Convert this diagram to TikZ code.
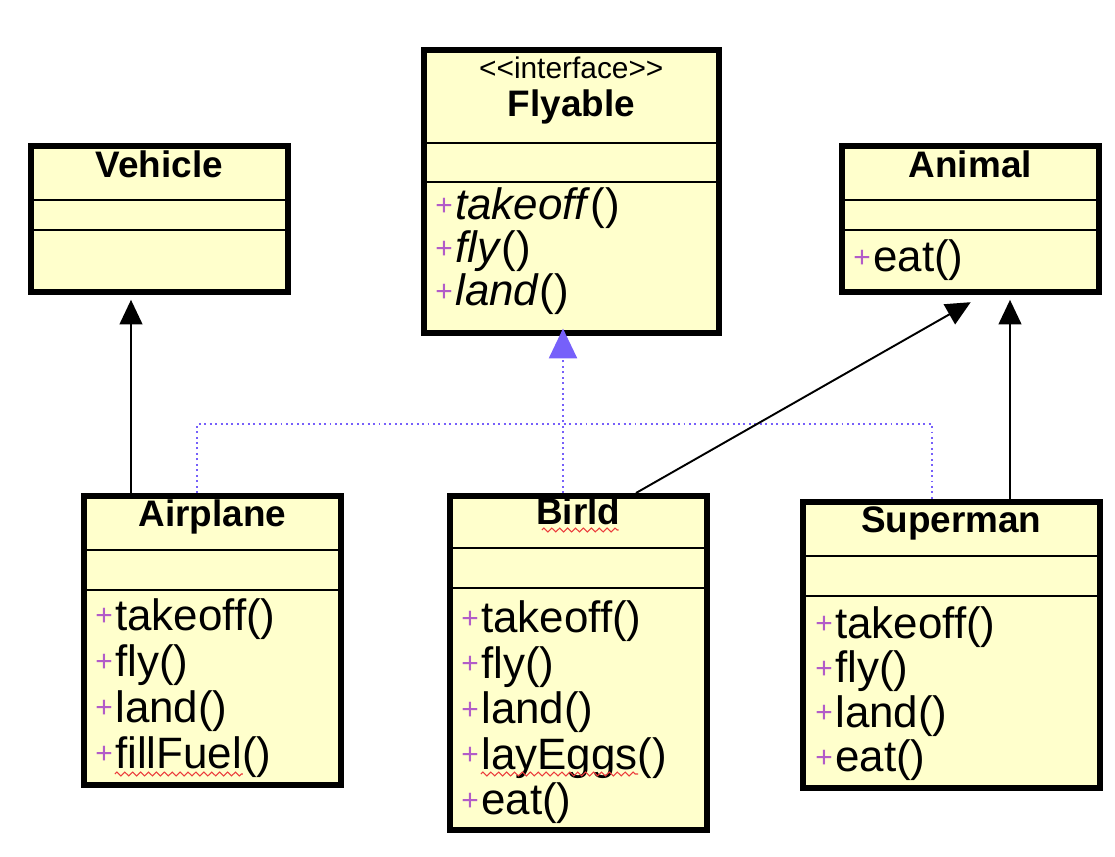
\documentclass[tikz,border=0pt]{standalone}
\usepackage{fontspec}
\setmainfont{Liberation Sans}
\usetikzlibrary{arrows.meta, calc, decorations.pathmorphing}

\definecolor{umlfill}{RGB}{255,255,204}
\definecolor{realblue}{RGB}{118,96,250}
\definecolor{pluscol}{RGB}{178,92,200}
\definecolor{squigred}{RGB}{235,60,60}

\begin{document}
\begin{tikzpicture}[x=0.02cm, y=-0.02cm,
    classbox/.style={draw, line width=3.2pt, fill=umlfill, anchor=north west, inner sep=0pt},
    divider/.style={line width=1.4pt},
    title/.style={anchor=base, inner sep=0pt, font=\fontsize{21}{24}\selectfont\bfseries},
    stereo/.style={anchor=base, inner sep=0pt, font=\fontsize{17}{20}\selectfont},
    plus/.style={anchor=base west, inner sep=0pt, yshift=2.5pt, text=pluscol, font=\fontsize{17}{17}\selectfont},
    op/.style={anchor=base west, inner sep=0pt, xshift=1pt, yshift=-2.5pt, font=\fontsize{25}{26}\selectfont},
    gen/.style={line width=1.1pt, shorten >=3pt, -{Triangle[width=13pt, length=14pt]}},
    real/.style={realblue, dotted, line width=1.1pt},
    squig/.style={squigred, line width=0.6pt, decorate,
        decoration={zigzag, amplitude=1.1pt, segment length=4.5pt}}]

    \useasboundingbox (0,0) rectangle (1115,857);

    % class boxes
    \node[classbox, minimum width=5.14cm, minimum height=2.92cm] (vehicle) at (28,143) {};
    \node[classbox, minimum width=5.90cm, minimum height=5.66cm] (flyable) at (421,47) {};
    \node[classbox, minimum width=5.14cm, minimum height=2.92cm] (animal) at (839,143) {};
    \node[classbox, minimum width=5.14cm, minimum height=5.78cm] (airplane) at (81,493) {};
    \node[classbox, minimum width=5.14cm, minimum height=6.68cm] (birld) at (447,493) {};
    \node[classbox, minimum width=5.94cm, minimum height=5.72cm] (superman) at (800,499) {};

    % compartments
    \foreach \c/\a/\b/\w in {vehicle/57/87/257, flyable/96/135/295, animal/57/87/257,
                             airplane/57/97/257, birld/55/95/257, superman/57/97/297} {
        \draw[divider] (\c.north west) ++(0,\a) -- ++(\w,0);
        \draw[divider] (\c.north west) ++(0,\b) -- ++(\w,0);
    }

    % class names
    \node[title] (vehicle-name) at ($(vehicle.north)+(0,35)$) {Vehicle};
    \node[stereo] (flyable-stereo) at ($(flyable.north)+(0,32)$) {<\kern0pt<interface>\kern0pt>};
    \node[title] (flyable-name) at ($(flyable.north)+(0,70)$) {Flyable};
    \node[title] (animal-name) at ($(animal.north)+(0,35)$) {Animal};
    \node[title] (airplane-name) at ($(airplane.north)+(0,34)$) {Airplane};
    \node[title] (birld-name) at ($(birld.north)+(0,32)$) {Birld};
    \node[title] (superman-name) at ($(superman.north)+(0,34)$) {Superman};

    % operations
    \foreach \op [count=\i] in {takeoff, fly, land} {
        \node[plus] (flyable-p\i) at ($(flyable.north west)+(14,130+43*\i)$) {+};
        \node[op] (flyable-o\i) at (flyable-p\i.base east) {\textit{\op}()};
    }
    \foreach \op [count=\i] in {eat} {
        \node[plus] (animal-p\i) at ($(animal.north west)+(14,84+45*\i)$) {+};
        \node[op] (animal-o\i) at (animal-p\i.base east) {\op()};
    }
    \foreach \op [count=\i] in {takeoff, fly, land, fillFuel} {
        \node[plus] (airplane-p\i) at ($(airplane.north west)+(14,91+46*\i)$) {+};
        \node[op] (airplane-o\i) at (airplane-p\i.base east) {\op()};
    }
    \foreach \op [count=\i] in {takeoff, fly, land, layEggs, eat} {
        \node[plus] (birld-p\i) at ($(birld.north west)+(14,94+45.5*\i)$) {+};
        \node[op] (birld-o\i) at (birld-p\i.base east) {\op()};
    }
    \foreach \op [count=\i] in {takeoff, fly, land, eat} {
        \node[plus] (superman-p\i) at ($(superman.north west)+(15,94.5+44.5*\i)$) {+};
        \node[op] (superman-o\i) at (superman-p\i.base east) {\op()};
    }

    % spell-check marks
    \draw[squig] ($(birld-name.base west)+(6,5)$) -- ($(birld-name.base east)+(-2,5)$);
    \draw[squig] ($(airplane-o4.base west)+(0,6)$) -- ($(airplane-o4.base east)+(-29,6)$);
    \draw[squig] ($(birld-o4.base west)+(0,5)$) -- ($(birld-o4.base east)+(-29,5)$);

    % realization
    \coordinate (real-a) at ($(airplane.north west)+(116,0)$);
    \coordinate (real-b) at ($(birld.north west)+(116,0)$);
    \coordinate (real-s) at ($(superman.north west)+(132,0)$);
    \coordinate (real-j) at ($(real-b)+(0,-69)$);
    \draw[real] (real-a) |- (real-j) -| (real-s);
    \draw[real, shorten >=-4pt, -{Triangle[width=16pt, length=17pt]}] (real-b) -- (real-b |- flyable.south);

    % generalization
    \coordinate (gen-a) at ($(airplane.north west)+(50,0)$);
    \coordinate (gen-b) at ($(birld.north west)+(189,0)$);
    \coordinate (gen-s) at ($(superman.north west)+(210,0)$);
    \draw[gen] (gen-a) -- (gen-a |- vehicle.south);
    \draw[gen] (gen-b) -- ($(animal.south)+(5,5)$);
    \draw[gen] (gen-s) -- (gen-s |- animal.south);

\end{tikzpicture}
\end{document}
